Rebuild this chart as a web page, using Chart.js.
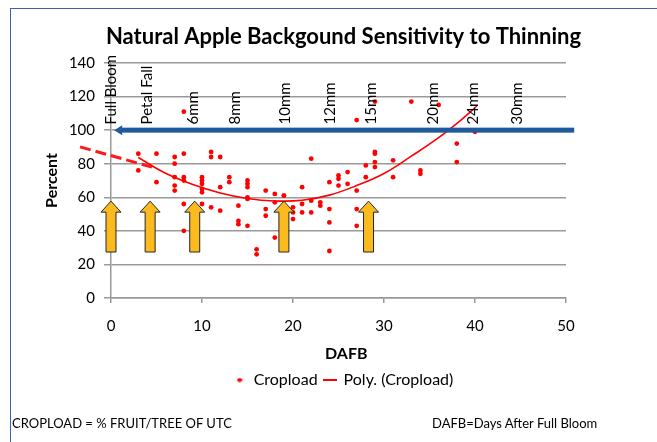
<!DOCTYPE html>
<html>
<head>
<meta charset="utf-8">
<script src="https://cdn.jsdelivr.net/npm/chart.js@4.4.1/dist/chart.umd.min.js"></script>
<style>
  html, body { margin: 0; padding: 0; background: #fff; }
  #wrap { position: relative; width: 657px; height: 442px; overflow: hidden; font-family: Lato, sans-serif; }
  #frame { position: absolute; left: 10px; top: 8px; right: -5px; bottom: -5px;
           border-left: 1px solid #3f5fae; border-top: 1px solid #3f5fae; }
  canvas { position: absolute; left: 0; top: 0; }
  .foot { position: absolute; top: 415px; font-size: 13px; color: #000; white-space: pre; }
</style>
</head>
<body>
<div id="wrap">
  <div id="frame"></div>
  <canvas id="chart" width="657" height="442"></canvas>
  <div class="foot" style="left:12px">CROPLOAD = % FRUIT/TREE OF UTC</div>
  <div class="foot" style="left:432px">DAFB=Days After Full Bloom</div>
</div>
<script>
// Cropload (%) by days after full bloom
const cropDays = [
  3, 3, 5, 5, 7, 7, 7, 7, 7, 8, 8, 8, 8, 8, 8,
  10, 10, 10, 10, 10, 10, 11, 11, 11, 12, 12, 12, 13, 13, 14, 14, 14,
  15, 15, 15, 15, 15, 15, 16, 16, 17, 17, 17, 18, 18, 18, 19, 19,
  20, 20, 20, 21, 21, 21, 22, 22, 22, 23, 23, 24, 24, 24, 24,
  25, 25, 25, 26, 26, 27, 27, 27, 27, 28, 28, 29, 29, 29, 29, 29,
  31, 31, 33, 34, 34, 36, 38, 38, 40
];
const cropPct = [
  86, 76, 86, 69, 84, 80, 72, 67, 64, 86, 72, 70, 56, 40, 111,
  72, 70, 68, 65, 63, 56, 87, 84, 54, 84, 66, 52, 72, 69, 55, 46, 44,
  70, 68, 66, 60, 59, 43, 29, 26, 64, 53, 49, 62, 57, 36, 61, 61,
  54, 51, 47, 66, 56, 51, 83, 58, 51, 57, 55, 69, 53, 45, 28,
  73, 71, 67, 75, 68, 64, 53, 43, 106, 79, 72, 87, 86, 81, 78, 117,
  82, 72, 117, 76, 74, 115, 92, 81, 99
];

// polynomial trendline, points
const trendDays = [3, 6, 9, 12, 15, 18, 21, 24, 27, 30, 33, 36, 39, 40.2];
const trendPct  = [83.7, 74.3, 67.6, 62.6, 59.3, 57.8, 58.2, 61.3, 67, 74.2, 84.5, 95.5, 108.5, 114.4];

// dashed red stroke on the left
const dashDays = [-3.4, 4.5];
const dashPct  = [90, 78];

// growth stage labels and arrows
const stageNames = ['Full Bloom', 'Petal Fall', '6mm', '8mm', '10mm', '12mm', '15mm', '20mm', '24mm', '30mm'];
const stageDays  = [0, 4, 9, 13.6, 19.1, 24.1, 28.6, 35.4, 39.8, 44.6];
const arrowDays  = [0, 4.3, 9.2, 19, 28.3];
const arrowFrom  = 27.4, arrowTo = 57.7;   // percent
const thresholdPct = 100;                  // blue line
const thresholdFrom = 50.9, thresholdTo = 0.35;

const xTicks = [0, 10, 20, 30, 40, 50];
const yTicks = [0, 20, 40, 60, 80, 100, 120, 140];

const FONT = 'Lato';

function makeSwatch(w, h, draw) {
    const c = document.createElement('canvas');
    c.width = w; c.height = h;
    draw(c.getContext('2d'));
    return c;
}
const dotSwatch = makeSwatch(6, 5, g => {
    g.fillStyle = '#ff0000';
    g.beginPath(); g.ellipse(3, 2.5, 2.6, 2.1, 0, 0, Math.PI * 2); g.fill();
});
const lineSwatch = makeSwatch(14, 2, g => {
    g.fillStyle = '#ff0000'; g.fillRect(0, 0, 14, 2);
});

const annotations = {
    id: 'annotations',
    afterDatasetsDraw(chart) {
        const {ctx, scales: {x, y}} = chart;
        ctx.save();

        // blue threshold arrow
        const by = y.getPixelForValue(thresholdPct);
        const bx0 = x.getPixelForValue(thresholdFrom);
        const bx1 = x.getPixelForValue(thresholdTo);
        ctx.fillStyle = '#1f5b9c';
        ctx.fillRect(bx1 + 6, by - 2.5, bx0 - bx1 - 6, 5);
        ctx.beginPath();
        ctx.moveTo(bx1, by);
        ctx.lineTo(bx1 + 8, by - 5);
        ctx.lineTo(bx1 + 8, by + 5);
        ctx.closePath();
        ctx.fill();

        // orange up arrows
        const ty = y.getPixelForValue(arrowTo);
        const fy = y.getPixelForValue(arrowFrom);
        arrowDays.forEach(d => {
            const cx = x.getPixelForValue(d);
            ctx.beginPath();
            ctx.moveTo(cx, ty);
            ctx.lineTo(cx + 10, ty + 11);
            ctx.lineTo(cx + 5, ty + 11);
            ctx.lineTo(cx + 5, fy);
            ctx.lineTo(cx - 5, fy);
            ctx.lineTo(cx - 5, ty + 11);
            ctx.lineTo(cx - 10, ty + 11);
            ctx.closePath();
            ctx.fillStyle = '#fbbb1f';
            ctx.fill();
            ctx.lineWidth = 1;
            ctx.strokeStyle = '#262626';
            ctx.stroke();
        });

        // rotated stage labels
        ctx.font = '15px ' + FONT;
        ctx.fillStyle = '#000';
        ctx.textAlign = 'left';
        ctx.textBaseline = 'middle';
        const ly = y.getPixelForValue(103.4);
        stageNames.forEach((name, i) => {
            ctx.save();
            ctx.translate(x.getPixelForValue(stageDays[i]), ly);
            ctx.rotate(-Math.PI / 2);
            ctx.fillText(name, 0, 0);
            ctx.restore();
        });
        ctx.restore();
    }
};

new Chart(document.getElementById('chart'), {
    type: 'scatter',
    data: {
        datasets: [{
            label: 'Cropload',
            data: cropDays.map((d, i) => ({x: d, y: cropPct[i]})),
            backgroundColor: '#ff0000',
            borderWidth: 0,
            pointRadius: 2.4
        }, {
            label: 'Poly. (Cropload)',
            data: trendDays.map((d, i) => ({x: d, y: trendPct[i]})),
            showLine: true,
            borderColor: '#ff0000',
            backgroundColor: '#ff0000',
            borderWidth: 1.6,
            pointRadius: 0,
            tension: 0.4
        }, {
            label: 'dash',
            data: dashDays.map((d, i) => ({x: d, y: dashPct[i]})),
            showLine: true,
            borderColor: '#ff1a1a',
            borderWidth: 3,
            borderDash: [11, 5],
            pointRadius: 0,
            clip: false
        }]
    },
    options: {
        responsive: false,
        animation: false,
        layout: { padding: { left: 40, right: 10, top: 8, bottom: 44 } },
        scales: {
            x: {
                type: 'linear', min: 0, max: 50,
                afterBuildTicks: s => { s.ticks = xTicks.map(v => ({value: v})); },
                afterFit: s => { s.height = 68; },
                grid: { drawOnChartArea: false, drawTicks: true, tickLength: 5, color: '#999', lineWidth: 1.5 },
                border: { color: '#999', width: 1.5 },
                ticks: { font: { family: FONT, size: 15 }, color: '#000', padding: 14 },
                title: { display: true, text: '    DAFB', font: { family: FONT, size: 16, weight: 'bold' }, color: '#000', padding: { top: 0, bottom: 2.4 } }
            },
            y: {
                type: 'linear', min: 0, max: 140,
                afterBuildTicks: s => { s.ticks = yTicks.map(v => ({value: v})); },
                afterFit: s => { s.width = 71; },
                grid: { color: '#999', lineWidth: 1.5, tickLength: 7 },
                border: { color: '#999', width: 1.5 },
                ticks: { font: { family: FONT, size: 15 }, color: '#000', padding: 9 },
                title: { display: true, text: 'Percent', font: { family: FONT, size: 16, weight: 'bold' }, color: '#000', padding: { top: 2.4, bottom: 0 } }
            },
            yR: {
                position: 'right', display: true,
                afterFit: s => { s.width = 81; },
                grid: { display: false },
                border: { display: false },
                ticks: { display: false }
            }
        },
        plugins: {
            title: {
                display: true,
                text: 'Natural Apple Backgound Sensitivity to Thinning',
                font: { family: FONT, size: 22, weight: 'bold' },
                color: '#000',
                padding: { top: 16, bottom: 12.6 }
            },
            legend: {
                position: 'bottom',
                labels: {
                    font: { family: FONT, size: 16 },
                    color: '#000',
                    usePointStyle: true,
                    boxWidth: 12,
                    boxHeight: 8,
                    padding: 6,
                    filter: item => item.text !== 'dash',
                    sort: (a, b) => a.datasetIndex - b.datasetIndex,
                    generateLabels: function(chart) {
                        const items = Chart.defaults.plugins.legend.labels.generateLabels(chart);
                        items.forEach(it => {
                            it.pointStyle = it.datasetIndex === 0 ? dotSwatch : lineSwatch;
                        });
                        return items;
                    }
                }
            },
            tooltip: { enabled: false }
        }
    },
    plugins: [annotations]
});
</script>
</body>
</html>
